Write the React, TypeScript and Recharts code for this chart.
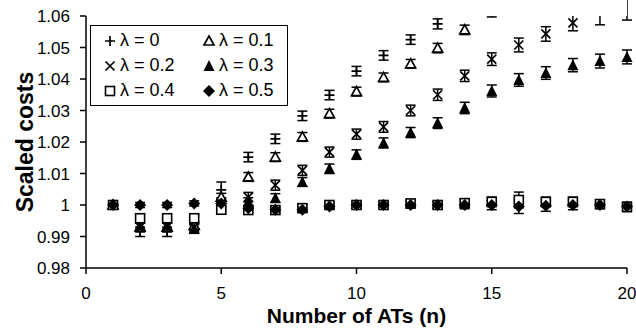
import React from "react";
import { ScatterChart, Scatter, XAxis, YAxis, ErrorBar, Legend, ReferenceArea } from "recharts";

const nValues = [1, 2, 3, 4, 5, 6, 7, 8, 9, 10, 11, 12, 13, 14, 15, 16, 17, 18, 19, 20];
const lambdaLabels = ["λ = 0", "λ = 0.1", "λ = 0.2", "λ = 0.3", "λ = 0.4", "λ = 0.5"];

// scaled cost per lambda (values above 1.06 fall outside the axis)
const cost0 = [1.0, 0.9915, 0.9915, 0.9925, 1.0048, 1.0152, 1.021, 1.0283, 1.0349, 1.0425, 1.0475, 1.0525, 1.0575, 1.0635, 1.0665, 1.069, 1.0715, 1.0735, 1.075, 1.0765];
const err0 = [0.0005, 0.0015, 0.0015, 0.0015, 0.0025, 0.0015, 0.0015, 0.0015, 0.0015, 0.0015, 0.0015, 0.0015, 0.0016, 0.002, 0.002, 0.002, 0.002, 0.002, 0.002, 0.002];
const cost1 = [1.0, 0.993, 0.993, 0.9935, 1.0025, 1.0089, 1.0152, 1.0216, 1.029, 1.036, 1.0405, 1.0448, 1.0498, 1.0556, 1.0618, 1.065, 1.068, 1.07, 1.072, 1.074];
const err1 = [0.0005, 0.0012, 0.0012, 0.0012, 0.0012, 0.0014, 0.0014, 0.0014, 0.0014, 0.0014, 0.0014, 0.0014, 0.0015, 0.0015, 0.0021, 0.002, 0.002, 0.002, 0.002, 0.002];
const cost2 = [1.0, 0.993, 0.993, 0.993, 1.0005, 1.0025, 1.0063, 1.011, 1.0168, 1.0225, 1.0248, 1.03, 1.035, 1.041, 1.0463, 1.0508, 1.0543, 1.0578, 1.0618, 1.0625];
const err2 = [0.0005, 0.0012, 0.0012, 0.0012, 0.0014, 0.0015, 0.0016, 0.0016, 0.0016, 0.0016, 0.0017, 0.0017, 0.0018, 0.0018, 0.002, 0.0022, 0.0023, 0.0025, 0.0046, 0.0038];
const cost3 = [1.0, 0.9935, 0.9935, 0.9925, 0.9995, 1.001, 1.0022, 1.0073, 1.0115, 1.016, 1.0197, 1.023, 1.026, 1.0308, 1.0362, 1.0397, 1.0419, 1.0444, 1.0457, 1.047];
const err3 = [0.0005, 0.0012, 0.0012, 0.0012, 0.0012, 0.0013, 0.0014, 0.0014, 0.0015, 0.0015, 0.0016, 0.0016, 0.0017, 0.0018, 0.0019, 0.002, 0.002, 0.0021, 0.0022, 0.0022];
const cost4 = [1.0, 0.9958, 0.9958, 0.9958, 0.9985, 0.9984, 0.9984, 0.999, 1.0, 1.0, 1.0, 1.0005, 1.0, 1.0006, 1.001, 1.0016, 1.001, 1.001, 1.0003, 0.9994];
const err4 = [0.0005, 0.0012, 0.0012, 0.0012, 0.001, 0.001, 0.001, 0.001, 0.001, 0.001, 0.001, 0.0012, 0.001, 0.0012, 0.0015, 0.0025, 0.0015, 0.0015, 0.0012, 0.0015];
const cost5 = [1.0, 1.0, 1.0, 1.0005, 1.0005, 0.999, 0.9985, 0.9985, 0.9995, 1.0, 1.0, 1.0, 1.0, 1.0, 1.0, 0.9995, 0.9998, 1.0, 1.0, 0.9995];
const err5 = [0.0005, 0.0008, 0.0008, 0.0008, 0.0008, 0.0008, 0.0008, 0.0008, 0.0008, 0.0008, 0.0008, 0.001, 0.001, 0.0012, 0.0015, 0.0022, 0.0018, 0.0015, 0.0012, 0.0012];

const yTicks = [0.98, 0.99, 1, 1.01, 1.02, 1.03, 1.04, 1.05, 1.06];
const xTicks = [0, 5, 10, 15, 20];

type Kind = "plus" | "openTri" | "cross" | "fillTri" | "openSquare" | "fillDiamond";
const kinds: Kind[] = ["plus", "openTri", "cross", "fillTri", "openSquare", "fillDiamond"];
const costs = [cost0, cost1, cost2, cost3, cost4, cost5];
const errs = [err0, err1, err2, err3, err4, err5];

const font = "'Liberation Sans', Arial, Helvetica, sans-serif";

function Marker({ kind, cx, cy }: { kind: Kind; cx: number; cy: number }) {
  switch (kind) {
    case "plus":
      return <path d={`M${cx - 5},${cy}H${cx + 5}M${cx},${cy - 5}V${cy + 5}`} stroke="#000" strokeWidth={1.7} fill="none" />;
    case "openTri":
      return <path d={`M${cx},${cy - 5}L${cx + 5},${cy + 4}L${cx - 5},${cy + 4}Z`} stroke="#000" strokeWidth={1.7} fill="#fff" />;
    case "cross":
      return <path d={`M${cx - 4.5},${cy - 4.5}L${cx + 4.5},${cy + 4.5}M${cx + 4.5},${cy - 4.5}L${cx - 4.5},${cy + 4.5}`} stroke="#000" strokeWidth={1.7} fill="none" />;
    case "fillTri":
      return <path d={`M${cx},${cy - 6}L${cx + 5.5},${cy + 5}L${cx - 5.5},${cy + 5}Z`} fill="#000" />;
    case "openSquare":
      return <rect x={cx - 4.5} y={cy - 4.5} width={9} height={9} stroke="#000" strokeWidth={1.6} fill="#fff" />;
    default:
      return <path d={`M${cx},${cy - 6}L${cx + 6},${cy}L${cx},${cy + 6}L${cx - 6},${cy}Z`} fill="#000" />;
  }
}

const legendBox = () => (
  <div style={{ position: "relative", width: 198, height: 81, boxSizing: "border-box", border: "1.5px solid #000", background: "#fff", fontFamily: font, fontSize: 18, color: "#000" }}>
    {lambdaLabels.map((label, i) => {
      const col = i % 2;
      const row = Math.floor(i / 2);
      return (
        <div key={label} style={{ position: "absolute", left: col === 0 ? 11 : 110, top: 2 + row * 25, height: 25, display: "flex", alignItems: "center", whiteSpace: "nowrap" }}>
          <svg width={16} height={16} style={{ overflow: "visible", marginRight: 2 }}>
            <Marker kind={kinds[i]} cx={8} cy={8} />
          </svg>
          <span>{label}</span>
        </div>
      );
    })}
  </div>
);

export default function App() {
  const tickStyle = { fill: "#000", fontSize: 17, fontFamily: font };
  return (
    <div style={{ position: "absolute", left: 0, top: 0, background: "#fff" }}>
      <ScatterChart width={636} height={328} margin={{ top: 16, right: 9, left: 0, bottom: 0 }} style={{ fontFamily: font }}>
        <XAxis
          type="number"
          dataKey="n"
          domain={[0, 20]}
          ticks={xTicks}
          height={60}
          tickSize={6}
          tickMargin={13}
          tick={tickStyle}
          axisLine={{ stroke: "#000", strokeWidth: 1.5 }}
          tickLine={{ stroke: "#000", strokeWidth: 1.5 }}
          label={{ value: "Number of ATs (n)", position: "insideBottom", offset: 5, style: { fill: "#000", fontSize: 21, fontWeight: "bold", fontFamily: font } }}
        />
        <YAxis
          type="number"
          dataKey="cost"
          domain={[0.98, 1.06]}
          ticks={yTicks}
          allowDataOverflow
          width={86}
          tickSize={6}
          tickMargin={10}
          tick={tickStyle}
          tickFormatter={(v: number) => String(Number(v.toFixed(2)))}
          axisLine={{ stroke: "#000", strokeWidth: 1.5 }}
          tickLine={{ stroke: "#000", strokeWidth: 1.5 }}
          label={{ value: "Scaled costs", angle: -90, position: "insideLeft", offset: 25, style: { fill: "#000", fontSize: 23, fontWeight: "bold", fontFamily: font, textAnchor: "middle" } }}
        />
        <Legend layout="vertical" align="center" verticalAlign="middle" content={legendBox} wrapperStyle={{ left: 90, top: 25, width: 198, height: 81 }} />
        {kinds.map((kind, s) => (
          <Scatter
            key={kind}
            name={lambdaLabels[s]}
            data={nValues.map((n, i) => ({ n, cost: costs[s][i], err: errs[s][i] }))}
            isAnimationActive={false}
            shape={(p: any) => <Marker kind={kind} cx={p.cx} cy={p.cy} />}
          >
            <ErrorBar dataKey="err" direction="y" width={5} stroke="#000" strokeWidth={1.5} />
          </Scatter>
        ))}
        {/* mask error bars that run past the top of the axis */}
        <ReferenceArea y1={1.06} y2={1.12} ifOverflow="visible" fill="#fff" fillOpacity={1} stroke="none" zIndex={2000} />
      </ScatterChart>
    </div>
  );
}
